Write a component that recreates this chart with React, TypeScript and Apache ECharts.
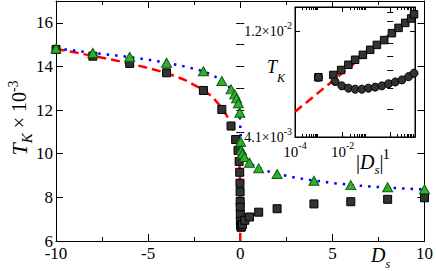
import React, { useEffect, useRef } from 'react';
import * as echarts from 'echarts';

const SERIF = '"Liberation Serif", "DejaVu Serif", "Times New Roman", serif';

// ---------- main panel: T_K (x10^-3) versus D_s ----------
const squareDs = [-10, -8, -6, -4, -2, -1, -0.5, -0.25, -0.12, -0.06, -0.03, -0.015, -0.008, -0.004, -0.001,
  0.005, 0.01, 0.02, 0.04, 0.07, 0.12, 0.25, 0.5, 1, 2, 4, 6, 8, 10];
const squareTk = [14.78, 14.47, 14.14, 13.71, 12.9, 12.03, 11.27, 10.65, 10.15, 9.65, 9.15, 8.65, 8.25, 7.8, 7.55,
  7.2, 6.9, 6.72, 6.63, 6.66, 6.76, 6.95, 7.1, 7.32, 7.48, 7.7, 7.8, 7.91, 7.98];

const triangleDs = [-10, -8, -6, -4, -2, -1, -0.5, -0.3, -0.2, -0.1, -0.02, 0.02, 0.06, 0.12, 0.22, 0.5, 1, 2, 4, 6, 8, 10];
const triangleTk = [14.82, 14.62, 14.44, 14.17, 13.78, 13.33, 12.95, 12.72, 12.54, 12.31, 11.88, 10.55, 10.17, 10.0, 9.85,
  9.59, 9.33, 9.07, 8.76, 8.56, 8.46, 8.37];

const redFitDs = [-10, -9, -8, -7, -6, -5, -4, -3, -2, -1.5, -1, -0.7, -0.5, -0.3, -0.2, -0.1, -0.05, -0.02, -0.01, -0.004, -0.001, -0.0001];
const redFitTk = [14.8, 14.65, 14.48, 14.32, 14.13, 13.93, 13.7, 13.38, 12.92, 12.6, 12.1, 11.7, 11.32, 10.9, 10.6, 10.1, 9.6, 9.0, 8.6, 8.0, 7.3, 6.0];

const blueFitDs = [-10, -9, -8, -7, -6, -5, -4, -3, -2, -1.5, -1, -0.7, -0.5, -0.3, -0.2, -0.1, -0.05, -0.02, 0, 0.02, 0.05,
  0.1, 0.2, 0.35, 0.5, 0.75, 1, 1.5, 2, 3, 4, 5, 6, 7, 8, 9, 10];
const blueFitTk = [14.83, 14.73, 14.62, 14.53, 14.43, 14.31, 14.17, 14.0, 13.78, 13.6, 13.35, 13.15, 12.97, 12.72, 12.55, 12.3,
  12.05, 11.7, 11.3, 10.9, 10.45, 10.15, 9.9, 9.72, 9.6, 9.45, 9.35, 9.2, 9.08, 8.9, 8.77, 8.66, 8.57, 8.5, 8.45, 8.4, 8.36];

// ---------- inset: T_K versus |D_s| (log-log) ----------
const insetSquareAbsDs = [0.00096, 0.0041, 0.0087, 0.0175, 0.0336, 0.0709, 0.144, 0.275, 0.559, 1.18, 2.24, 4.28, 7.6, 10];
const insetSquareTk = [0.00753, 0.00771, 0.00811, 0.00855, 0.009, 0.00946, 0.00996, 0.01047, 0.011, 0.0118, 0.01245, 0.0131, 0.0137, 0.0143];

const insetCircleAbsDs = [0.00096, 0.00483, 0.00925, 0.0175, 0.0336, 0.0643, 0.122, 0.233, 0.447, 0.847, 1.63, 3.11, 5.9, 10];
const insetCircleTk = [0.00753, 0.00721, 0.0069, 0.00674, 0.00667, 0.00667, 0.00674, 0.00681, 0.0069, 0.00705, 0.00718, 0.00733, 0.00758, 0.00785];

const insetFitAbsDs = [0.0001, 11];
const insetFitTk = [0.0053, 0.0144];

// inset axis ranges and ticks
const insetXMin = 0.0001;
const insetXMax = 11;
const insetYMin = 0.0041;
const insetYMax = 0.0154;
const insetXMajorTicks = [0.0001, 0.01, 1];
const insetXMinorTicks = [
  0.0002, 0.0003, 0.0004, 0.0005, 0.0006, 0.0007, 0.0008, 0.0009,
  0.02, 0.03, 0.04, 0.05, 0.06, 0.07, 0.08, 0.09,
  2, 3, 4, 5, 6, 7, 8, 9,
];
const insetXLabelValues = [0.0001, 0.01, 1];
const insetXLabelExps = ['-4', '-2', ''];
const insetYMajorTicks = [0.0041, 0.012];
const insetYMinorTicks = [0.005417, 0.006733, 0.00805, 0.009367, 0.010683, 0.013317, 0.014633];
const insetYLabelValues = [0.0041, 0.012];
const insetYLabelMantissa = ['4.1', '1.2'];
const insetYLabelExps = ['-3', '-2'];

const zip = (a: number[], b: number[]) => a.map((v, i) => [v, b[i]]);
const lg = (v: number) => Math.log10(v);

const TICK = { color: '#000', width: 1 };
const LINE = { show: true, onZero: false, lineStyle: { color: '#000', width: 1 } };

function mainX(position: string, labels: boolean) {
  return {
    type: 'value', gridIndex: 0, position, min: -10, max: 10, interval: 5,
    axisLine: LINE,
    axisTick: { show: true, inside: true, length: 7, lineStyle: TICK },
    minorTick: { show: true, splitNumber: 2, length: 4, lineStyle: TICK },
    axisLabel: labels ? { show: true, fontFamily: SERIF, fontSize: 17, color: '#000', margin: 4 } : { show: false },
    splitLine: { show: false }, minorSplitLine: { show: false },
  };
}

function mainY(position: string, interval: number, len: number, line: boolean, labels: boolean) {
  return {
    type: 'value', gridIndex: 0, position, min: 6, max: 17, interval,
    axisLine: line ? LINE : { show: false },
    axisTick: { show: true, inside: true, length: len, lineStyle: TICK },
    axisLabel: labels
      ? { show: true, fontFamily: SERIF, fontSize: 17, color: '#000', margin: 3, showMaxLabel: false }
      : { show: false },
    splitLine: { show: false },
  };
}

function helperAxis(gridIndex: number, position: string, min: number, max: number, ticks: number[], len: number, line: boolean, labels?: any) {
  return {
    type: 'value', gridIndex, position, min, max,
    axisLine: line ? LINE : { show: false },
    axisTick: { show: true, inside: true, length: len, customValues: ticks, lineStyle: TICK },
    axisLabel: labels ? labels : { show: false },
    splitLine: { show: false },
  };
}

const near = (a: number, b: number) => Math.abs(a - b) <= Math.abs(b) * 1e-4;

const insetXLabels = {
  show: true,
  margin: 3,
  customValues: insetXLabelValues.map(lg),
  formatter: (v: number) => {
    const raw = Math.pow(10, v);
    const i = insetXLabelValues.findIndex((x) => near(raw, x));
    if (i < 0) return '';
    if (insetXLabelExps[i] === '') return '{c|1}';
    return `{b|10}{s|${insetXLabelExps[i]}}`;
  },
  rich: {
    b: { fontFamily: SERIF, fontSize: 15, color: '#000' },
    c: { fontFamily: SERIF, fontSize: 15, color: '#000', padding: [6, 8, 0, 0] },
    s: { fontFamily: SERIF, fontSize: 10, color: '#000', padding: [0, 0, 14, 0] },
  },
};

const insetYLabels = {
  show: true,
  margin: 3,
  customValues: insetYLabelValues.map(lg),
  formatter: (v: number) => {
    const raw = Math.pow(10, v);
    const i = insetYLabelValues.findIndex((x) => near(raw, x));
    if (i < 0) return '';
    return `{b|${insetYLabelMantissa[i]}×10}{s|${insetYLabelExps[i]}}`;
  },
  rich: {
    b: { fontFamily: SERIF, fontSize: 14, color: '#000' },
    s: { fontFamily: SERIF, fontSize: 10, color: '#000', padding: [0, 0, 12, 0] },
  },
};

const ser = (size: number, extra: any = {}) => ({ fontFamily: SERIF, fontSize: size, color: '#000', ...extra });

export default function App() {
  const ref = useRef<HTMLDivElement>(null);
  useEffect(() => {
    const chart = echarts.init(ref.current as HTMLDivElement, undefined, { renderer: 'svg' });
    const option: any = {
      animation: false,
      backgroundColor: '#fff',
      textStyle: { fontFamily: SERIF },
      grid: [
        { left: 56, top: 1, right: 9, bottom: 30, show: false },
        { left: 295, top: 7, width: 120, height: 130, show: true, backgroundColor: '#fff', borderColor: '#000', borderWidth: 1 },
      ],
      xAxis: [
        mainX('bottom', true),
        mainX('top', false),
        { type: 'log', logBase: 10, gridIndex: 1, min: insetXMin, max: insetXMax, show: false },
        helperAxis(1, 'bottom', lg(insetXMin), lg(insetXMax), insetXMajorTicks.map(lg), 5, true, insetXLabels),
        helperAxis(1, 'bottom', lg(insetXMin), lg(insetXMax), insetXMinorTicks.map(lg), 3, false),
        helperAxis(1, 'top', lg(insetXMin), lg(insetXMax), insetXMajorTicks.map(lg), 5, true),
        helperAxis(1, 'top', lg(insetXMin), lg(insetXMax), insetXMinorTicks.map(lg), 3, false),
      ],
      yAxis: [
        mainY('left', 2, 7, true, true),
        mainY('left', 1, 4, false, false),
        mainY('right', 2, 7, true, false),
        mainY('right', 1, 4, false, false),
        { type: 'log', logBase: 10, gridIndex: 1, min: insetYMin, max: insetYMax, show: false },
        helperAxis(1, 'left', lg(insetYMin), lg(insetYMax), insetYMajorTicks.map(lg), 5, true, insetYLabels),
        helperAxis(1, 'left', lg(insetYMin), lg(insetYMax), insetYMinorTicks.map(lg), 3, false),
        helperAxis(1, 'right', lg(insetYMin), lg(insetYMax), insetYMajorTicks.map(lg), 5, true),
        helperAxis(1, 'right', lg(insetYMin), lg(insetYMax), insetYMinorTicks.map(lg), 3, false),
      ],
      series: [
        {
          type: 'line', xAxisIndex: 0, yAxisIndex: 0, data: zip(redFitDs, redFitTk),
          symbol: 'none', showSymbol: false, silent: true,
          lineStyle: { color: '#ff0000', width: 2.5, type: [9, 5] }, z: 2,
        },
        {
          type: 'line', xAxisIndex: 0, yAxisIndex: 0, data: zip(blueFitDs, blueFitTk),
          symbol: 'none', showSymbol: false, silent: true,
          lineStyle: { color: '#0000ff', width: 2.5, type: [2.5, 6] }, z: 2,
        },
        {
          type: 'scatter', xAxisIndex: 0, yAxisIndex: 0, data: zip(squareDs, squareTk),
          symbol: 'rect', symbolSize: 8, silent: true,
          itemStyle: { color: '#333', borderColor: '#000', borderWidth: 1, opacity: 1 }, z: 3,
        },
        {
          type: 'scatter', xAxisIndex: 0, yAxisIndex: 0, data: zip(triangleDs, triangleTk),
          symbol: 'triangle', symbolSize: [10, 9], silent: true,
          itemStyle: { color: '#2fb02f', borderColor: '#0b5e0b', borderWidth: 1, opacity: 1 }, z: 4,
        },
        {
          type: 'line', xAxisIndex: 2, yAxisIndex: 4, data: zip(insetFitAbsDs, insetFitTk),
          symbol: 'none', showSymbol: false, silent: true,
          lineStyle: { color: '#ff0000', width: 2.5, type: [9, 5] }, z: 5,
        },
        {
          type: 'scatter', xAxisIndex: 2, yAxisIndex: 4, data: zip(insetSquareAbsDs, insetSquareTk),
          symbol: 'rect', symbolSize: 7.5, silent: true,
          itemStyle: { color: '#333', borderColor: '#000', borderWidth: 1, opacity: 1 }, z: 6,
        },
        {
          type: 'scatter', xAxisIndex: 2, yAxisIndex: 4, data: zip(insetCircleAbsDs, insetCircleTk),
          symbol: 'circle', symbolSize: 8, silent: true,
          itemStyle: { color: '#333', borderColor: '#000', borderWidth: 1, opacity: 1 }, z: 7,
        },
      ],
      graphic: [
        {
          type: 'text', x: 19, y: 118, rotation: Math.PI / 2, z: 100,
          style: {
            text: '{t|T}{k|K}{n| × 10}{e|-3}',
            align: 'center', verticalAlign: 'middle',
            rich: {
              t: ser(22, { fontStyle: 'italic' }),
              k: ser(15, { fontStyle: 'italic', padding: [15, 0, 0, 0] }),
              n: ser(20),
              e: ser(14, { padding: [0, 0, 12, 0] }),
            },
          },
        },
        {
          type: 'text', x: 371, y: 255, z: 100,
          style: {
            text: '{d|D}{s|s}',
            align: 'left', verticalAlign: 'middle',
            rich: {
              d: ser(20, { fontStyle: 'italic' }),
              s: ser(12, { fontStyle: 'italic', padding: [18, 0, 0, 0] }),
            },
          },
        },
        {
          type: 'text', x: 267, y: 67, z: 100,
          style: {
            text: '{t|T}{k|K}',
            align: 'left', verticalAlign: 'middle',
            rich: {
              t: ser(18, { fontStyle: 'italic' }),
              k: ser(12, { fontStyle: 'italic', padding: [22, 0, 0, 0] }),
            },
          },
        },
        {
          type: 'text', x: 356, y: 162, z: 100,
          style: {
            text: '{p||}{d|D}{s|s}{p||}',
            align: 'left', verticalAlign: 'middle',
            rich: {
              p: ser(20),
              d: ser(20, { fontStyle: 'italic' }),
              s: ser(13, { fontStyle: 'italic', padding: [14, 0, 0, 0] }),
            },
          },
        },
      ],
    };
    chart.setOption(option);
    return () => chart.dispose();
  }, []);
  return (
    <div
      ref={ref}
      style={{ position: 'fixed', left: 0, top: 0, width: 436, height: 271, background: '#fff' }}
    />
  );
}
